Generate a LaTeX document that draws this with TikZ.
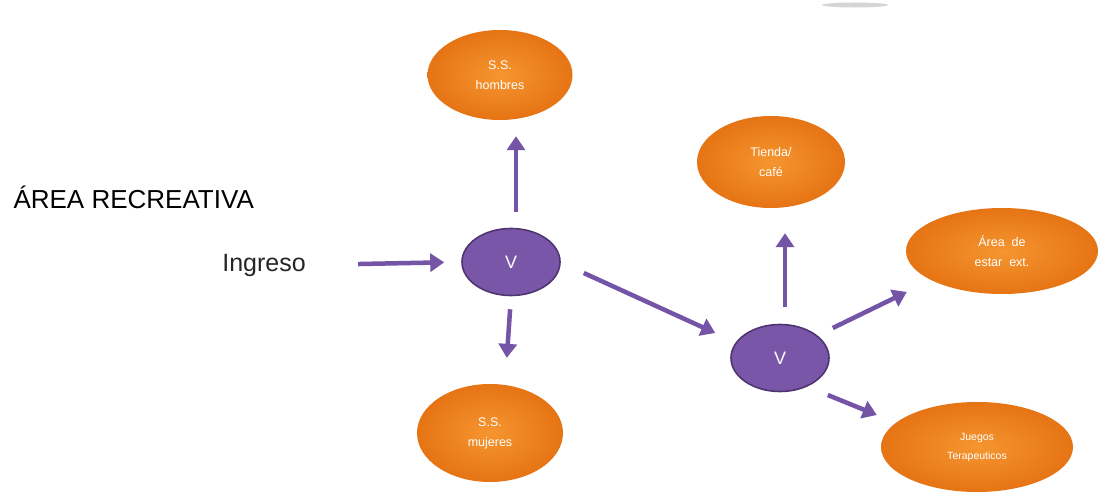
\documentclass[tikz,border=0pt]{standalone}
\usepackage{fontspec}
\setmainfont{Liberation Sans}
\usetikzlibrary{shapes.geometric,arrows.meta}
\definecolor{vfill}{RGB}{122,86,168}
\definecolor{vline}{RGB}{78,54,112}
\definecolor{arrowc}{RGB}{116,84,166}
\definecolor{orin}{RGB}{245,150,48}
\definecolor{orout}{RGB}{230,116,20}
\begin{document}
\begin{tikzpicture}[x=1pt,y=-1pt,
  room/.style={ellipse, shade, inner color=orin, outer color=orout,
    text=white, align=center, inner sep=0pt,
    font=\fontsize{12.5}{20}\selectfont},
  junction/.style={ellipse, fill=vfill, draw=vline, line width=1.6pt,
    minimum width=98pt, minimum height=67pt, text=white,
    font=\fontsize{18}{18}\selectfont},
  arr/.style={draw=arrowc, line width=4.5pt,
    -{Triangle[length=14pt,width=18pt]}}]
\useasboundingbox (0,0) rectangle (1109,494);
\fill[white] (0,0) rectangle (1109,494);

% faint shadow of a shape cut off at the top edge
\fill[gray!55, opacity=0.6] (855,5) ellipse [x radius=33, y radius=2.5];

% titles
\node[anchor=west, font=\fontsize{26}{26}\selectfont] (title) at (10,197) {ÁREA RECREATIVA};
\node[font=\fontsize{25}{25}\selectfont, text=black!85] (ing) at (264,265) {Ingreso};

% circulation nodes
\node[junction] (v1) at (511,262) {V};
\node[junction] (v2) at (780,358) {V};

% destinations
\node[room, minimum width=145pt, minimum height=90pt] (hom) at (500,75) {S.S.\\hombres};
\node[room, minimum width=148pt, minimum height=92pt] (tie) at (771,162) {Tienda/\\café};
\node[room, minimum width=192pt, minimum height=86pt] (are) at (1002,251) {Área\ \ de\\estar\ \ ext.};
\node[room, minimum width=192pt, minimum height=90pt,
  font=\fontsize{10.5}{19}\selectfont] (jue) at (977,447) {Juegos\\Terapeuticos};
\node[room, minimum width=146pt, minimum height=98pt] (muj) at (490,433) {S.S.\\mujeres};

% connectors
\draw[arr, shorten <=49pt, shorten >=17pt] (ing.east) -- (v1.west);
\draw[arr, shorten <=16pt, shorten >=16pt] ([xshift=5pt]v1.north) -- ([xshift=16pt]hom.south);
\draw[arr, shorten <=13pt, shorten >=26pt] (v1.south) -- ([xshift=15pt]muj.north);
\draw[arr] ([shift={(23,11)}]v1.east) -- ([shift={(-15,-25)}]v2.west);
\draw[arr, shorten <=17pt, shorten >=25pt] ([xshift=5pt]v2.north) -- ([xshift=14pt]tie.south);
\draw[arr] ([shift={(3,-30)}]v2.east) -- ([shift={(1,41)}]are.west);
\draw[arr] ([shift={(-2,37)}]v2.east) -- ([shift={(-4,-32)}]jue.west);
\end{tikzpicture}
\end{document}
